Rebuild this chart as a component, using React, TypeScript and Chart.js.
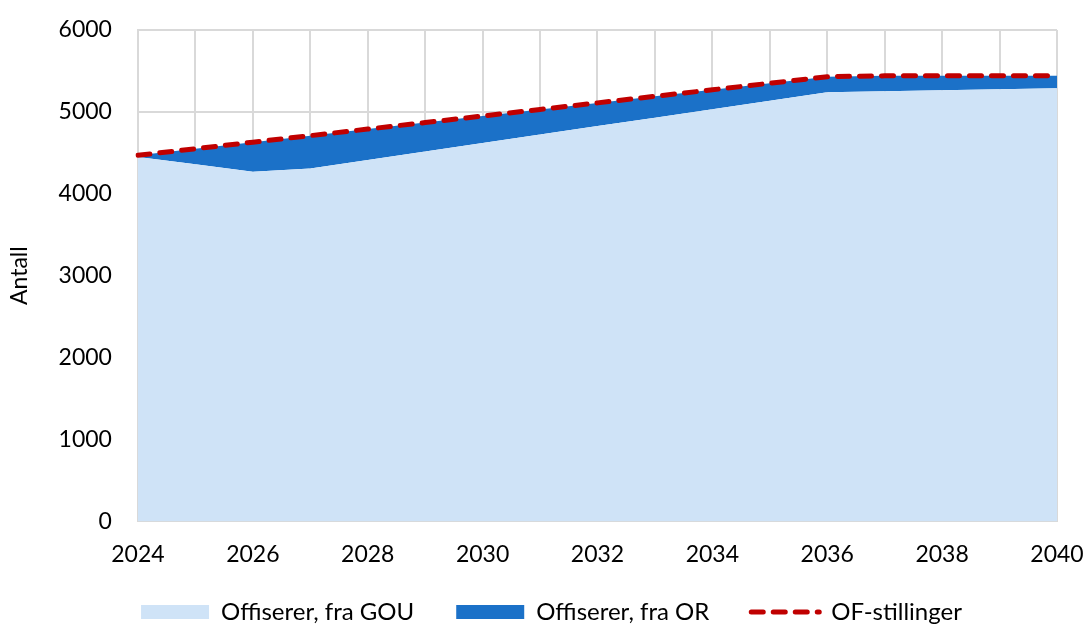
import React, { useEffect, useRef } from "react";
import { Chart, registerables } from "chart.js";

Chart.register(...registerables);

const years = [2024, 2025, 2026, 2027, 2028, 2029, 2030, 2031, 2032, 2033, 2034, 2035, 2036, 2037, 2038, 2039, 2040];
const fraGOU = [4450, 4360, 4270, 4310, 4413, 4517, 4620, 4723, 4827, 4930, 5033, 5137, 5240, 5253, 5265, 5278, 5290];
const fraOR = [20, 190, 360, 400, 377, 353, 330, 307, 283, 260, 237, 213, 190, 187, 175, 162, 150];
const ofStillinger = [4470, 4550, 4630, 4710, 4790, 4870, 4950, 5030, 5110, 5190, 5270, 5350, 5430, 5440, 5440, 5440, 5440];
const yTicks = [0, 1000, 2000, 3000, 4000, 5000, 6000];

const FONT = "Lato, 'Open Sans', sans-serif";
const FS = 23;
const FL = 24;

const legendShift = {
  id: "legendShift",
  afterLayout(chart: any) {
    if (chart.legend) {
      chart.legend.left += 22;
      chart.legend.right += 22;
      chart.legend.top -= 10;
      chart.legend.bottom -= 10;
    }
  },
};

export default function App() {
  const ref = useRef<HTMLCanvasElement | null>(null);
  useEffect(() => {
    if (!ref.current) return;
    const chart = new Chart(ref.current, {
      type: "line",
      plugins: [legendShift],
      data: {
        labels: years.map(String),
        datasets: [
          {
            label: "Offiserer, fra GOU",
            data: fraGOU,
            backgroundColor: "#cfe3f7",
            borderWidth: 0,
            fill: "origin",
            pointRadius: 0,
            stack: "a",
            order: 1,
          },
          {
            label: "Offiserer, fra OR",
            data: fraOR,
            backgroundColor: "#1b71c8",
            borderWidth: 0,
            fill: "-1",
            pointRadius: 0,
            stack: "a",
            order: 2,
          },
          {
            label: "OF-stillinger",
            data: ofStillinger,
            borderColor: "#c00000",
            backgroundColor: "#c00000",
            borderWidth: 5,
            borderDash: [12, 10],
            borderCapStyle: "round",
            fill: false,
            pointRadius: 0,
            stack: "b",
            order: 0,
          },
        ],
      },
      options: {
        animation: false,
        responsive: true,
        maintainAspectRatio: false,
        layout: { padding: { left: 2, right: 29, top: 30, bottom: -18 } },
        plugins: {
          tooltip: { enabled: false },
          legend: {
            position: "bottom",
            labels: {
              usePointStyle: true,
              pointStyleWidth: 68,
              boxHeight: 14,
              padding: 42,
              color: "#000",
              font: { family: FONT, size: FL },
              sort: (a: any, b: any) => a.datasetIndex - b.datasetIndex,
              generateLabels: (c: any) =>
                c.data.datasets.map((ds: any, i: number) => ({
                  text: ds.label,
                  datasetIndex: i,
                  fillStyle: ds.backgroundColor,
                  strokeStyle: i === 2 ? ds.borderColor : ds.backgroundColor,
                  lineWidth: i === 2 ? 5 : 0,
                  lineDash: i === 2 ? [12, 10] : [],
                  lineCap: "round",
                  pointStyle: i === 2 ? "line" : "rect",
                  hidden: false,
                  fontColor: "#000",
                })),
            },
          },
        },
        scales: {
          x: {
            type: "category",
            offset: false,
            grid: {
              color: "#d9d9d9",
              lineWidth: 2,
              drawTicks: true,
              tickLength: 19,
              tickColor: "rgba(0,0,0,0)",
            },
            border: { color: "#d9d9d9", width: 2 },
            ticks: {
              autoSkip: false,
              maxRotation: 0,
              padding: 0,
              color: "#000",
              font: { family: FONT, size: FS },
              callback: (_v: any, i: number) => (years[i] % 2 === 0 ? String(years[i]) : ""),
            },
          },
          y: {
            stacked: true,
            min: 0,
            max: 6000,
            afterBuildTicks: (axis: any) => {
              axis.ticks = yTicks.map((v) => ({ value: v }));
            },
            grid: {
              color: "#d9d9d9",
              lineWidth: 2,
              drawTicks: true,
              tickLength: 26,
              tickColor: "rgba(0,0,0,0)",
            },
            border: { color: "#d9d9d9", width: 2 },
            ticks: {
              padding: 0,
              color: "#000",
              font: { family: FONT, size: FS },
              callback: (v: any) => String(v),
            },
            title: {
              display: true,
              text: "Antall",
              color: "#000",
              font: { family: FONT, size: FS },
              padding: { top: 4, bottom: 25 },
            },
          },
        },
      },
    });
    return () => chart.destroy();
  }, []);
  return (
    <div style={{ position: "absolute", left: 0, top: 0, width: 1086, height: 626 }}>
      <canvas ref={ref} />
    </div>
  );
}
